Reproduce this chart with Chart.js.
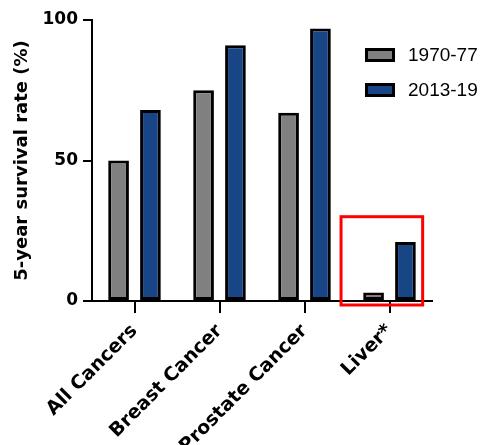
<!DOCTYPE html>
<html>
<head>
<meta charset="utf-8">
<script src="https://cdn.jsdelivr.net/npm/chart.js@4/dist/chart.umd.min.js"></script>
<style>
  html, body { margin: 0; padding: 0; background: #fff; }
  #wrap { width: 483px; height: 445px; }
</style>
</head>
<body>
<div id="wrap"><canvas id="c" width="483" height="445"></canvas></div>
<script>
const categories = ['All Cancers', 'Breast Cancer', 'Prostate Cancer', 'Liver*'];
const seriesNames = ['1970-77', '2013-19'];
const survival1970 = [50, 75, 67, 3];
const survival2013 = [68, 91, 97, 21];
const yTicks = [0, 50, 100];
const yTitle = '5-year survival rate (%)';
const highlightCategory = 'Liver*';
const highlightTop = 30;

const GRAY = '#808080';
const BLUE = '#184585';

const customLegend = {
  id: 'customLegend',
  afterDraw(chart) {
    const ctx = chart.ctx;
    const ca = chart.chartArea;
    const x0 = ca.right - 67;
    let y0 = ca.top + 28;
    ctx.save();
    chart.data.datasets.forEach((ds) => {
      ctx.fillStyle = ds.backgroundColor;
      ctx.strokeStyle = '#000';
      ctx.lineWidth = 3;
      ctx.fillRect(x0, y0, 30, 14);
      ctx.strokeRect(x0 + 1.5, y0 + 1.5, 27, 11);
      ctx.fillStyle = '#000';
      ctx.font = "19px 'Liberation Sans'";
      ctx.textBaseline = 'middle';
      ctx.textAlign = 'left';
      ctx.fillText(ds.label, x0 + 43, y0 + 8);
      y0 += 35;
    });
    ctx.restore();
  }
};

const highlightBox = {
  id: 'highlightBox',
  afterDatasetsDraw(chart) {
    const xs = chart.scales.x, ys = chart.scales.y;
    const idx = categories.indexOf(highlightCategory);
    const cx = xs.getPixelForValue(idx);
    const w = xs.width / categories.length;
    const left = cx - 0.57 * w;
    const right = cx + 0.39 * w;
    const top = ys.getPixelForValue(highlightTop);
    const bottom = ys.getPixelForValue(0) + 4;
    const ctx = chart.ctx;
    ctx.save();
    ctx.strokeStyle = '#ff0000';
    ctx.lineWidth = 3;
    ctx.strokeRect(left, top, right - left, bottom - top);
    ctx.restore();
  }
};

new Chart(document.getElementById('c'), {
  type: 'bar',
  data: {
    labels: categories,
    datasets: [
      { label: seriesNames[0], data: survival1970, backgroundColor: GRAY, borderColor: '#000', borderWidth: 3, borderSkipped: false },
      { label: seriesNames[1], data: survival2013, backgroundColor: BLUE, borderColor: '#000', borderWidth: 3, borderSkipped: false }
    ]
  },
  options: {
    responsive: false,
    animation: false,
    devicePixelRatio: 1,
    layout: { padding: { top: 20, right: 51, left: 0, bottom: 0 } },
    datasets: { bar: { categoryPercentage: 0.75, barPercentage: 0.65 } },
    plugins: {
      legend: { display: false },
      tooltip: { enabled: false }
    },
    scales: {
      x: {
        offset: true,
        afterFit(s) { s.height = 144; },
        grid: { offset: false, drawOnChartArea: false, drawTicks: true, tickLength: 12, color: '#000', lineWidth: 2 },
        border: { display: true, color: '#000', width: 2 },
        ticks: {
          color: '#000',
          font: { family: 'DejaVu Sans', weight: 'bold', size: 19 },
          maxRotation: 45, minRotation: 45, padding: 7, autoSkip: false
        }
      },
      y: {
        min: 0, max: 100,
        afterFit(s) { s.width = 92; },
        afterBuildTicks(s) { s.ticks = yTicks.map(v => ({ value: v })); },
        grid: { drawOnChartArea: false, drawTicks: true, tickLength: 9, color: '#000', lineWidth: 2 },
        border: { display: true, color: '#000', width: 2 },
        ticks: {
          color: '#000',
          font: { family: 'DejaVu Sans', weight: 'bold', size: 17 },
          padding: 5
        },
        title: {
          display: true, text: yTitle, color: '#000',
          font: { family: 'DejaVu Sans', weight: 'bold', size: 18 },
          padding: { top: 12, bottom: 0 }
        }
      }
    }
  },
  plugins: [highlightBox, customLegend]
});
</script>
</body>
</html>
